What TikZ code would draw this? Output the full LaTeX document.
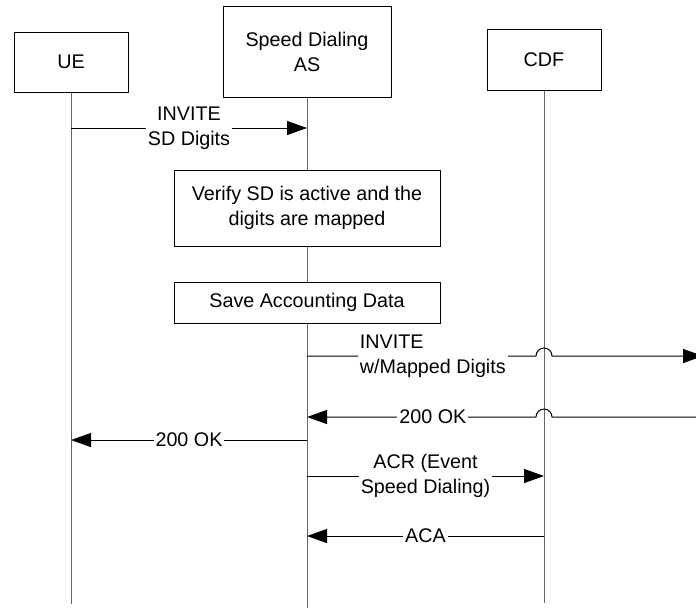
\documentclass[tikz,border=0pt]{standalone}
\usepackage{fontspec}
\setmainfont{Liberation Sans}
\usetikzlibrary{arrows.meta,calc}

\tikzset{
  entity/.style={draw, line width=0.75pt, minimum width=85.5pt, minimum height=45pt, inner sep=0pt, align=center},
  action/.style={draw, line width=0.75pt, fill=white, minimum width=199.5pt, inner sep=0pt, align=center},
  life/.style={draw=black!60, line width=0.75pt},
  msg/.style={line width=0.75pt, -{Triangle[length=15pt,width=10.5pt]}},
  lbl/.style={fill=white, inner sep=1.5pt, align=center}
}

\begin{document}
\begin{tikzpicture}[x=0.75pt, y=-0.75pt, font=\fontsize{14.8}{18.75}\selectfont]
\useasboundingbox (0,0) rectangle (696,608);

% entities
\node[entity] (ue) at (71,62) {UE};
\node[entity, minimum width=126pt, minimum height=68.25pt] (as) at (307,51.5) {Speed Dialing\\AS};
\node[entity, minimum height=45.75pt] (cdf) at (544,59.5) {CDF};

% work done at the AS
\node[action, minimum height=57pt] (verify) at (307,208) {Verify SD is active and the\\digits are mapped};
\node[action, minimum height=30.75pt] (save) at (307,302.5) {Save Accounting Data};

% lifelines
\coordinate (ueend) at (ue.south |- 0,604);
\coordinate (asend) at (as.south |- 0,608);
\coordinate (cdfend) at (cdf.south |- 0,603);
\draw[life] (ue.south) -- (ueend);
\draw[life] (as.south) -- (verify.north);
\draw[life] (verify.south) -- (save.north);
\draw[life] (save.south) -- (asend);
\draw[life] (cdf.south) -- (cdfend);

% messages
\coordinate (out1) at (703,356);
\coordinate (in2) at (696,417);

\draw[msg] (ue.south |- 0,128) -- node[lbl]{INVITE\\SD Digits} (as.south |- 0,128);
\draw[msg] (as.south |- 0,356) -- node[lbl, anchor=west, align=left, pos=0.22]{INVITE\\w/Mapped Digits}
  ($(cdf.south |- 0,356)+(-8,0)$) arc[start angle=180, end angle=0, radius=6pt] -- (out1);
\draw[msg] (in2) -- ($(cdf.south |- 0,417)+(8,0)$) arc[start angle=0, end angle=180, radius=6pt]
  -- node[lbl, pos=0.45]{200 OK} (as.south |- 0,417);
\draw[msg] (as.south |- 0,440) -- node[lbl]{200 OK} (ue.south |- 0,440);
\draw[msg] (as.south |- 0,476) -- node[lbl]{ACR (Event\\Speed Dialing)} (cdf.south |- 0,476);
\draw[msg] (cdf.south |- 0,536) -- node[lbl]{ACA} (as.south |- 0,536);

\end{tikzpicture}
\end{document}
